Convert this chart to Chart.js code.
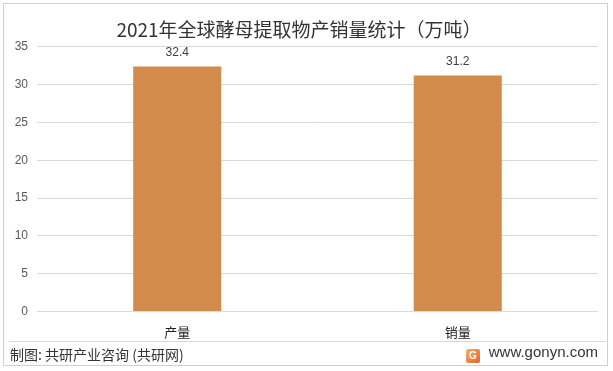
<!DOCTYPE html>
<html>
<head>
<meta charset="utf-8">
<script src="https://cdn.jsdelivr.net/npm/chart.js@4"></script>
<style>
  html, body { margin: 0; padding: 0; background: #fff; }
  #wrap { position: relative; width: 613px; height: 371px; overflow: hidden; font-family: 'Noto Sans CJK SC', sans-serif; }
  #frame { position: absolute; left: 3px; top: 3px; width: 605px; height: 363px; border: 1px solid #d0d0d0; box-sizing: border-box; }
  #box { position: absolute; left: 0; top: 0; width: 613px; height: 353px; }
  #sep { position: absolute; left: 9px; top: 341px; width: 597px; height: 1px; background: #d9d9d9; }
  #src { position: absolute; left: 10px; top: 344px; font-size: 14px; color: #333; }
  #site { position: absolute; right: 15px; top: 343px; font-size: 15px; color: #333; font-family: 'Liberation Sans', sans-serif; }
  #logo { display: inline-block; width: 14px; height: 14px; margin-right: 9px; vertical-align: -2px; border-radius: 2px;
          background: linear-gradient(135deg, #f6b26b, #e8602c); color: #fff; font-size: 10px; line-height: 14px; text-align: center; font-weight: bold; }
</style>
</head>
<body>
<div id="wrap">
  <div id="frame"></div>
  <div id="box"><canvas id="c"></canvas></div>
  <div id="sep"></div>
  <div id="src">制图: 共研产业咨询 (共研网)</div>
  <div id="site"><span id="logo">G</span>www.gonyn.com</div>
</div>
<script>
const categories = ['产量', '销量'];
const values = [32.4, 31.2];
const yTicks = [0, 5, 10, 15, 20, 25, 30, 35];

const valueLabels = {
  id: 'valueLabels',
  afterDatasetsDraw(chart) {
    const ctx = chart.ctx;
    const meta = chart.getDatasetMeta(0);
    ctx.save();
    ctx.font = '12px "Liberation Sans", sans-serif';
    ctx.fillStyle = '#404040';
    ctx.textAlign = 'center';
    ctx.textBaseline = 'bottom';
    meta.data.forEach((bar, i) => {
      ctx.fillText(values[i].toFixed(1), bar.x, bar.y - 8);
    });
    ctx.restore();
  }
};

new Chart(document.getElementById('c'), {
  type: 'bar',
  data: {
    labels: categories,
    datasets: [{
      data: values,
      backgroundColor: '#D38B4C',
      barPercentage: 0.314,
      categoryPercentage: 1
    }]
  },
  options: {
    responsive: true,
    maintainAspectRatio: false,
    animation: false,
    layout: { padding: { left: 0, right: 15, top: 0, bottom: 0 } },
    plugins: {
      legend: { display: false },
      tooltip: { enabled: false },
      title: {
        display: true,
        text: '2021年全球酵母提取物产销量统计（万吨）',
        color: '#333',
        font: { size: 19, family: "'Noto Sans CJK SC', sans-serif", weight: 'normal' },
        padding: { top: 18, bottom: 6 }
      }
    },
    scales: {
      x: {
        grid: { display: false, drawTicks: false },
        border: { display: false },
        ticks: { color: '#222', padding: 13, font: { size: 13, family: "'Noto Sans CJK SC', sans-serif" } }
      },
      y: {
        min: 0,
        max: 35,
        afterBuildTicks: (axis) => { axis.ticks = yTicks.map(v => ({ value: v })); },
        afterFit: (axis) => { axis.width = 37; },
        grid: { color: '#d9d9d9', drawTicks: false },
        border: { display: false },
        ticks: { color: '#595959', padding: 9, font: { size: 12, family: "'Liberation Sans', sans-serif" } }
      }
    }
  },
  plugins: [valueLabels]
});
</script>
</body>
</html>
